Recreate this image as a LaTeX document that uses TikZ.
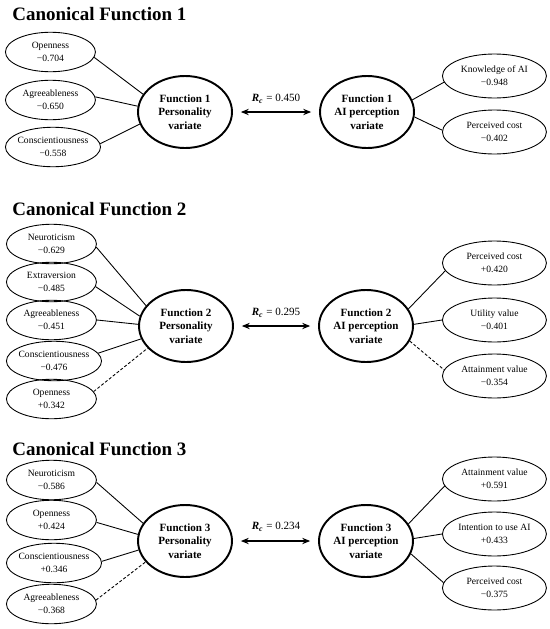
\documentclass[tikz,border=0pt]{standalone}
\usepackage{fontspec}
\setmainfont{Liberation Serif}
\usepackage{tikz}
\usetikzlibrary{shapes.geometric,arrows.meta,positioning}
\tikzset{
  item/.style={ellipse, draw, line width=0.5pt, inner sep=0pt, inner xsep=-1pt, minimum width=1.8cm, minimum height=0.79cm, align=center, font=\fontsize{5.45}{7.2}\selectfont},
  aiitem/.style={item, minimum width=2.08cm, minimum height=0.88cm},
  variate/.style={ellipse, draw, line width=1.1pt, inner sep=0pt, minimum width=1.88cm, minimum height=1.44cm, align=center, font=\fontsize{6.3}{7.7}\selectfont\bfseries},
  title/.style={anchor=base west, inner sep=0pt, font=\fontsize{10.8}{13}\selectfont\bfseries},
  rclabel/.style={inner sep=0pt, font=\fontsize{6.3}{7.4}\selectfont},
  link/.style={line width=0.5pt},
  weaklink/.style={line width=0.5pt, dash pattern=on 1.7pt off 1.1pt},
  corr/.style={{Stealth[length=4.5pt,width=3.6pt]}-{Stealth[length=4.5pt,width=3.6pt]}, line width=1.1pt, shorten <=4.5pt, shorten >=4.5pt},
}
\newcommand{\rc}{{\bfseries\itshape R}\textsubscript{\bfseries\itshape c}}

\begin{document}
\begin{tikzpicture}[x=0.02cm, y=-0.02cm]
  \useasboundingbox (0,0) rectangle (550,629);

  % Canonical Function 1
  \node[title] (t1) at (12,20) {Canonical Function 1};
  \node[variate] (p1) at (185,112) {Function 1\\Personality\\variate};
  \node[variate] (a1) at (367,112) {Function 1\\AI perception\\variate};
  \draw[corr] (p1.east) -- (a1.west);
  \node[rclabel] (r1) at (276,99) {\rc{} = 0.450};
  \foreach \i/\y/\txt/\val/\s/\e/\ln in {1/52/Openness/−0.704/353/157/link,
      2/100/Agreeableness/−0.650/4/173/link,
      3/147/Conscientiousness/−0.558/4/195/link} {
    \node[item, anchor=west] (p1-\i) at (5,\y) {\txt\\\val};
    \draw[\ln] (p1-\i.\s) -- (p1.\e);
  }
  \foreach \i/\y/\txt/\val/\s/\e/\ln in {1/76/Knowledge of AI/−0.948/15/187/link,
      2/132/Perceived cost/−0.402/354/178/link} {
    \node[aiitem, anchor=west] (a1-\i) at (442,\y) {\txt\\\val};
    \draw[\ln] (a1.\s) -- (a1-\i.\e);
  }

  % Canonical Function 2
  \node[title] (t2) at (12,215) {Canonical Function 2};
  \node[variate] (p2) at (186,326) {Function 2\\Personality\\variate};
  \node[variate] (a2) at (366,326) {Function 2\\AI perception\\variate};
  \draw[corr] (p2.east) -- (a2.west);
  \node[rclabel] (r2) at (276,313) {\rc{} = 0.295};
  \foreach \i/\y/\txt/\val/\s/\e/\ln in {1/244/Neuroticism/−0.629/356/153/link,
      2/282/Extraversion/−0.485/354/168/link,
      3/320/Agreeableness/−0.451/0/178/link,
      4/361/Conscientiousness/−0.476/10/196/link,
      5/399/Openness/+0.342/10/210/weaklink} {
    \node[item, anchor=west] (p2-\i) at (6,\y) {\txt\\\val};
    \draw[\ln] (p2-\i.\s) -- (p2.\e);
  }
  \foreach \i/\y/\txt/\val/\s/\e/\ln in {1/263/Perceived cost/+0.420/22/189/link,
      2/320/Utility value/−0.401/2/180/link,
      3/376/Attainment value/−0.354/341/173/weaklink} {
    \node[aiitem, anchor=west] (a2-\i) at (442,\y) {\txt\\\val};
    \draw[\ln] (a2.\s) -- (a2-\i.\e);
  }

  % Canonical Function 3
  \node[title] (t3) at (12,455) {Canonical Function 3};
  \node[variate] (p3) at (185,541) {Function 3\\Personality\\variate};
  \node[variate] (a3) at (366,541) {Function 3\\AI perception\\variate};
  \draw[corr] (p3.east) -- (a3.west);
  \node[rclabel] (r3) at (276,527) {\rc{} = 0.234};
  \foreach \i/\y/\txt/\val/\s/\e/\ln in {1/480/Neuroticism/−0.586/357/157/link,
      2/520/Openness/+0.424/357/172/link,
      3/563/Conscientiousness/+0.346/2/191/link,
      4/604/Agreeableness/−0.368/5/208/weaklink} {
    \node[item, anchor=west] (p3-\i) at (6,\y) {\txt\\\val};
    \draw[\ln] (p3-\i.\s) -- (p3.\e);
  }
  \foreach \i/\y/\txt/\val/\s/\e/\ln in {1/479/Attainment value/+0.591/22/188/link,
      2/534/Intention to use AI/+0.433/3/180/link,
      3/588/Perceived cost/−0.375/344/174/link} {
    \node[aiitem, anchor=west] (a3-\i) at (442,\y) {\txt\\\val};
    \draw[\ln] (a3.\s) -- (a3-\i.\e);
  }
\end{tikzpicture}
\end{document}
